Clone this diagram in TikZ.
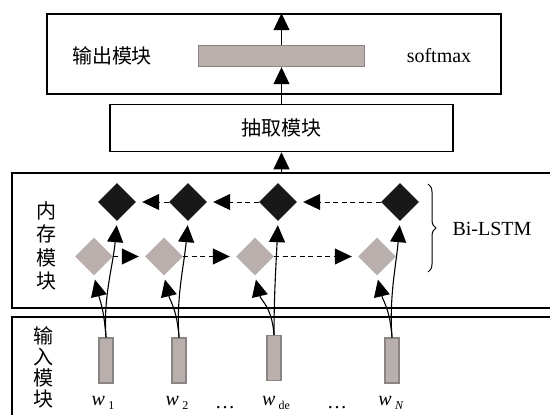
\documentclass[tikz,border=0pt]{standalone}
\usepackage{fontspec}
\setmainfont{Liberation Serif}
\newfontfamily\cjk{Noto Sans CJK SC}
\usetikzlibrary{positioning,shapes.geometric,arrows.meta,decorations.pathreplacing}

\definecolor{cellgray}{RGB}{185,176,174}
\definecolor{edgegray}{RGB}{138,132,130}
\definecolor{cellblack}{RGB}{24,24,24}
\newcommand{\wlab}[1]{\textit{w}\,\raisebox{-4pt}{\fontsize{12}{12}\selectfont #1}}

\tikzset{
  modbox/.style={draw, line width=1.6pt, inner sep=0pt},
  fwdcell/.style={diamond, fill=cellgray, minimum width=38pt, minimum height=38pt, inner sep=0pt},
  bwdcell/.style={diamond, fill=cellblack, minimum width=38pt, minimum height=38pt, inner sep=0pt},
  inbar/.style={draw=edgegray, fill=cellgray, line width=1.2pt, minimum width=14pt, minimum height=45pt, inner sep=0pt},
  hd/.style={-{Triangle[length=17pt,width=16pt]}, line width=1.1pt},
  dashhd/.style={hd, line width=1pt, dash pattern=on 5pt off 3.5pt, shorten >=6pt},
}

\begin{document}
\begin{tikzpicture}[x=1pt,y=1pt,yscale=-1,xscale=1,font=\fontsize{20}{24}\selectfont]
\useasboundingbox (0,0) rectangle (550,415);

%Shape: Rectangle (output)
\node[modbox, minimum width=454pt, minimum height=80pt] (outbox) at (274,54) {};
\node[draw=edgegray, fill=cellgray, line width=1.4pt, minimum width=166pt, minimum height=21pt, inner sep=0pt] (softbar) at (281.5,56) {};
% Text Node
\node (outlab) at (112,56) {\cjk 输出模块};
% Text Node
\node (softlab) at (439,56) {softmax};

%Shape: Rectangle (extract)
\node[modbox, minimum width=343pt, minimum height=47pt] (extract) at (281.5,128) {\cjk 抽取模块};

%Shape: Rectangle (memory)
\node[modbox, minimum width=550pt, minimum height=135pt] (mem) at (287,240.5) {};
%Shape: Rectangle (input)
\node[modbox, minimum width=550pt, minimum height=113pt] (inp) at (287,373.5) {};

% Text Node
\node[align=center, font=\cjk\fontsize{20}{23.5}\selectfont] (memlab) at (46,246) {内\\存\\模\\块};
% Text Node
\node[align=center, font=\cjk\fontsize{20}{21}\selectfont] (inplab) at (43,367) {输\\入\\模\\块};

%Shape: Diamond (backward cells)
\node[bwdcell] (b1) at (117,202) {};
\node[bwdcell] (b2) at (188,202) {};
\node[bwdcell] (b3) at (278,202) {};
\node[bwdcell] (b4) at (400,202) {};
%Shape: Diamond (forward cells)
\node[fwdcell] (g1) at (94,256.5) {};
\node[fwdcell] (g2) at (164,256.5) {};
\node[fwdcell] (g3) at (255,256.5) {};
\node[fwdcell] (g4) at (377,256.5) {};

%Shape: Rectangle (word vectors)
\node[inbar] (w1) at (106,360.5) {};
\node[inbar] (w2) at (179,360.5) {};
\node[inbar] (w3) at (274,358) {};
\node[inbar] (w4) at (392,360.5) {};

%Straight Lines
\draw[hd] (softbar.north) -- (softbar.north |- outbox.north);
\draw[hd] (extract.north -| softbar.south) -- (softbar.south);
\draw[hd] (mem.north -| extract.south) -- (extract.south);

%Dashed Lines
\draw[dashhd] (g1.east) -- (g2.west);
\draw[dashhd] (g2.east) -- (g3.west);
\draw[dashhd] (g3.east) -- (g4.west);
\draw[dashhd] (b2.west) -- (b1.east);
\draw[dashhd] (b3.west) -- (b2.east);
\draw[dashhd] (b4.west) -- (b3.east);

%Curve Lines
\draw[hd, shorten >=4pt] (w1.north) .. controls +(-3,-40) and +(-4,45) .. (b1.south);
\draw[hd, shorten >=4pt] (w1.north) .. controls +(-2,-28) and +(6,25) .. (g1.south);
\draw[hd, shorten >=4pt] (w2.north) .. controls +(-3,-40) and +(-4,45) .. (b2.south);
\draw[hd, shorten >=4pt] (w2.north) .. controls +(-2,-28) and +(6,25) .. (g2.south);
\draw[hd, shorten >=4pt] (w3.north) .. controls +(0,-40) and +(-2,45) .. (b3.south);
\draw[hd, shorten >=4pt] (w3.north) .. controls +(-2,-28) and +(6,25) .. (g3.south);
\draw[hd, shorten >=4pt] (w4.north) .. controls +(-3,-40) and +(-4,45) .. (b4.south);
\draw[hd, shorten >=4pt] (w4.north) .. controls +(-2,-28) and +(6,25) .. (g4.south);

%Brace
\draw[decorate, decoration={brace, amplitude=8pt}, line width=1pt] (428,184) -- (428,272);
% Text Node
\node (bilstm) at (492,229) {Bi-LSTM};

% Text Node
\node[anchor=base] (lw1) at (103,405) {\wlab{1}};
\node[anchor=base] (lw2) at (177,405) {\wlab{2}};
\node[anchor=base] (ldots1) at (225,408) {\dots};
\node[anchor=base] (lw3) at (276,405) {\wlab{de}};
\node[anchor=base] (ldots2) at (337,408) {\dots};
\node[anchor=base] (lw4) at (391,405) {\wlab{\textit{N}}};

\end{tikzpicture}
\end{document}
